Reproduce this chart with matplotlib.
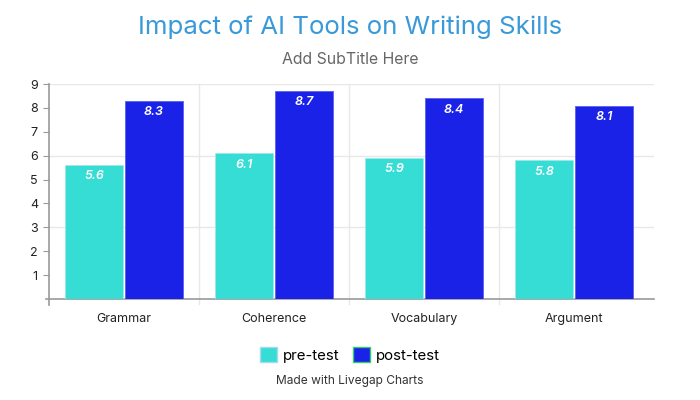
import matplotlib
matplotlib.use("Agg")
import matplotlib.pyplot as plt
import numpy as np
from matplotlib.patches import Patch

plt.rcParams['font.family'] = ['Inter', 'DejaVu Sans']

categories = ["Grammar", "Coherence", "Vocabulary", "Argument"]
pre_test = [5.6, 6.1, 5.9, 5.8]
post_test = [8.3, 8.7, 8.4, 8.1]
series_names = ["pre-test", "post-test"]
y_ticks = [1, 2, 3, 4, 5, 6, 7, 8, 9]

pre_color = "#36DDD5"
post_color = "#1B22E8"

fig = plt.figure(figsize=(7, 4), dpi=100)
ax = fig.add_axes([49/700, 1-299/400, (654-49)/700, (299-84)/400])

x = np.arange(len(categories))
w = 0.39
b1 = ax.bar(x - w/2 - 0.005, pre_test, w, color=pre_color, edgecolor="#9fe9e6", linewidth=0.6, zorder=3)
b2 = ax.bar(x + w/2 + 0.005, post_test, w, color=post_color, edgecolor="#5a60f0", linewidth=0.6, zorder=3)

for bars, vals in ((b1, pre_test), (b2, post_test)):
    for r, v in zip(bars, vals):
        ax.text(r.get_x() + r.get_width()/2, v - 0.22, f"{v}", ha="center", va="top",
                color="white", fontsize=9, fontstyle="italic", fontweight="semibold", zorder=4)

ax.set_xlim(-0.5, len(categories) - 0.5 + 5/150)
ax.set_ylim(0, 9)
ax.set_yticks(y_ticks)
ax.set_yticklabels([str(t) for t in y_ticks], fontsize=9, color="#222222")
ax.set_xticks(x)
ax.set_xticklabels(categories, fontsize=9, color="#222222")
ax.tick_params(axis="x", length=0, pad=10)
ax.tick_params(axis="y", length=4, width=0.8, color="#999999", pad=4)

for yv in [3, 6, 9]:
    ax.axhline(yv, color="#e8e8e8", linewidth=1, zorder=0)
for xv in np.arange(0.5, len(categories) - 0.5, 1):
    ax.axvline(xv, ymin=-5/215, ymax=1, color="#e8e8e8", linewidth=1, zorder=0, clip_on=False)

for s in ["top", "right"]:
    ax.spines[s].set_visible(False)
ax.spines["left"].set_color("#999999")
ax.spines["bottom"].set_color("#999999")
ax.spines["left"].set_linewidth(1.2)
ax.spines["bottom"].set_linewidth(1.2)
ax.spines["left"].set_bounds(-0.25, 9)
ax.spines["bottom"].set_bounds(-0.52, len(categories) - 0.5 + 5/150)

fig.text(0.5, 1-27/400, "Impact of AI Tools on Writing Skills", ha="center", va="center",
         fontsize=18.6, color="#3A9AD9")
fig.text(0.5, 1-60/400, "Add SubTitle Here", ha="center", va="center",
         fontsize=11.4, color="#666666")

handles = [Patch(facecolor=pre_color, edgecolor="#a8d8f0", linewidth=1),
           Patch(facecolor=post_color, edgecolor="#2ecc71", linewidth=1)]
fig.legend(handles, series_names, loc="center", bbox_to_anchor=(0.5, 1-355/400), ncol=2,
           frameon=False, fontsize=10.8, handlelength=1.1, handleheight=1.1,
           handletextpad=0.4, columnspacing=0.9)
fig.text(0.5, 1-381/400, "Made with Livegap Charts", ha="center", va="center",
         fontsize=8.6, color="#333333")

fig.savefig("out.png", dpi=100)
